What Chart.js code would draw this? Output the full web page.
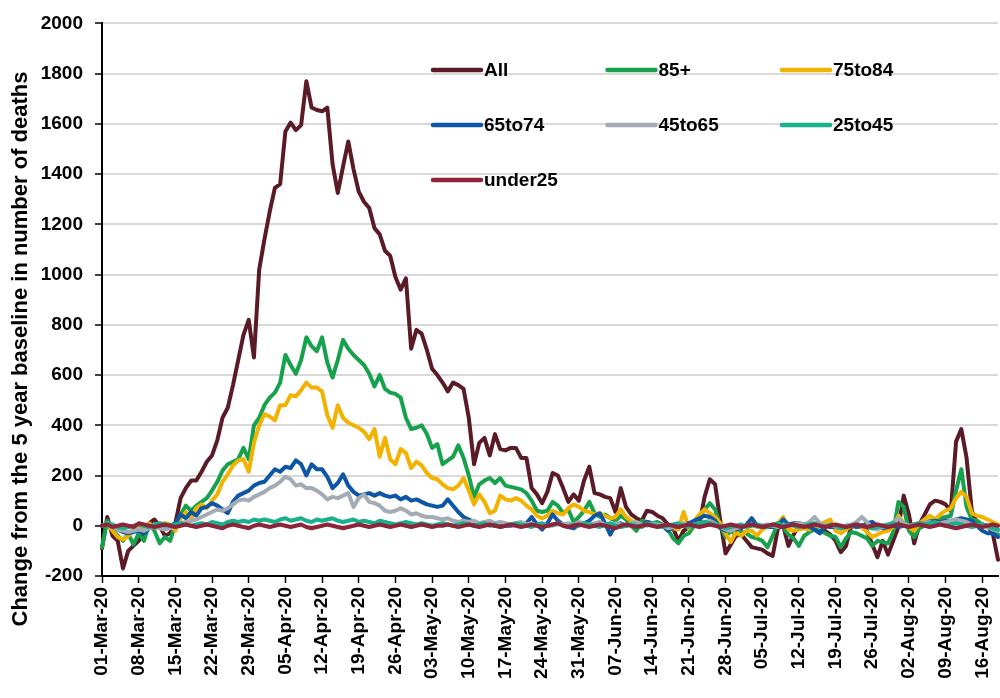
<!DOCTYPE html>
<html>
<head>
<meta charset="utf-8">
<title>Change from 5 year baseline in deaths</title>
<script src="https://cdn.jsdelivr.net/npm/chart.js@4.4.1/dist/chart.umd.min.js"></script>
<style>
  body { margin: 0; background: #fff; }
  canvas { display: block; }
</style>
</head>
<body>
<canvas id="myChart" width="1000" height="698"></canvas>
<script>
// daily series, starting 01-Mar-20
const firstDay = new Date(2020, 2, 1);
const monthNames = ['Jan','Feb','Mar','Apr','May','Jun','Jul','Aug','Sep','Oct','Nov','Dec'];

const allAges = [
  -90, 35, -40, -60, -170, -100, -80, -60, -30, 10,
  25, 0, -40, -30, 10, 110, 150, 180, 180, 215,
  255, 280, 340, 430, 470, 560, 660, 760, 820, 670,
  1020, 1140, 1250, 1345, 1360, 1570, 1605, 1575, 1595, 1770,
  1665, 1655, 1650, 1665, 1440, 1325, 1430, 1530, 1420, 1330,
  1290, 1265, 1185, 1160, 1095, 1075, 990, 940, 985, 705,
  780, 765, 700, 625, 600, 570, 535, 570, 560, 545,
  430, 245, 330, 350, 280, 365, 305, 300, 310, 310,
  270, 270, 150, 125, 90, 135, 210, 200, 150, 95,
  125, 100, 180, 235, 130, 125, 115, 110, 55, 150,
  75, 45, 30, 20, 60, 55, 40, 30, 5, -10,
  -60, -20, -5, 0, 5, 115, 185, 165, 20, -110,
  -75, -40, -35, -60, -85, -90, -95, -110, -120, -10,
  0, -80, -35, 0, 5, 0, 0, 5, -20, -35,
  -60, -105, -80, 0, 0, -5, -20, -75, -125, -60,
  -115, -60, -5, 120, 45, -70, 5, 45, 85, 100,
  95, 85, 60, 335, 385, 270, 60, 10, 5, 0,
  -30, -135
];

const age85plus = [
  -85, 20, -15, -40, -60, -30, -75, -30, -60, 5,
  -20, -70, -45, -60, 5, 45, 80, 60, 80, 95,
  110, 140, 175, 220, 245, 255, 265, 310, 265, 400,
  430, 480, 510, 530, 570, 680, 640, 605, 660, 750,
  715, 695, 750, 650, 590, 660, 740, 705, 680, 660,
  640, 605, 555, 600, 545, 530, 525, 510, 430, 385,
  390, 400, 365, 310, 325, 245, 260, 275, 320, 270,
  200, 115, 165, 180, 190, 170, 190, 160, 155, 150,
  145, 130, 100, 60, 55, 60, 95, 80, 50, 65,
  15, 35, 60, 95, 50, 35, 45, 30, 20, 40,
  25, 0, -20, 20, 15, 10, 15, 5, -15, -50,
  -70, -40, -30, 0, 35, 65, 90, 65, 0, -45,
  -20, -35, -25, -30, -45, -50, -60, -85, -40, 10,
  -5, -35, -50, -80, -40, -25, -15, -20, -30, -40,
  -45, -85, -50, -25, -30, -40, -50, -80, -60, -65,
  -70, -25, 95, 75, -20, -45, -10, 0, 20, 20,
  30, 35, 40, 140, 225, 75, 25, 20, 5, -5,
  -15, -35
];

const age75to84 = [
  0, 10, -20, -45, -55, -40, -20, 0, -10, 10,
  -5, 5, 10, 5, -20, 30, 55, 30, 70, 85,
  70, 100, 125, 175, 205, 240, 260, 265, 215, 330,
  400, 445, 435, 420, 480, 480, 520, 515, 540, 570,
  550, 550, 535, 440, 390, 480, 430, 410, 400, 390,
  375, 345, 385, 275, 350, 265, 245, 305, 290, 230,
  255, 240, 210, 190, 185, 165, 150, 145, 160, 190,
  140, 85, 125, 95, 50, 60, 120, 105, 100, 110,
  100, 80, 65, 40, 30, 40, 60, 50, 45, 70,
  85, 75, 60, 55, 45, 50, 40, 30, 35, 65,
  35, 20, 10, 5, 10, 0, 5, 0, -5, -10,
  -15, 55, -10, 20, 45, 65, 50, 35, 10, -30,
  -65, -25, -40, -20, -20, -40, -15, -5, 0, 10,
  35, -15, -20, -15, -10, -15, 0, 5, 15, 25,
  -20, -30, -15, 0, 5, -5, -25, -45, -35, -25,
  -20, -5, 40, 10, -5, -20, 10, 25, 40, 25,
  45, 60, 70, 110, 135, 115, 50, 40, 35, 25,
  15, 5
];

const age65to74 = [
  0, 5, -5, -15, -25, -30, -25, -20, -30, -10,
  0, -5, -10, 0, 10, 45, 30, 55, 40, 70,
  75, 90, 80, 65, 50, 95, 120, 130, 140, 160,
  170, 175, 200, 225, 215, 235, 230, 260, 245, 200,
  245, 225, 225, 195, 150, 170, 205, 160, 135, 120,
  125, 130, 120, 130, 120, 115, 120, 105, 115, 100,
  105, 95, 85, 80, 75, 80, 105, 80, 55, 35,
  25, 15, 10, 5, 5, 0, 5, 0, 0, 5,
  0, 10, 35, 5, -15, 10, 45, 20, 5, -5,
  -10, 5, 10, 20, 40, 50, 10, -35, 5, 10,
  0, 5, 0, 5, 15, 10, 5, 0, -20, -5,
  0, 5, 10, 20, 30, 40, 35, 20, -10, -20,
  -5, -15, -10, 5, 30, 0, -5, -5, -5, 0,
  25, 5, 10, 10, 5, -5, -15, -30, 0, -5,
  -5, -10, 0, 0, -5, 0, 10, 15, 0, -10,
  -5, 0, -5, 0, 0, 5, 10, 10, 15, 20,
  15, 20, 20, 25, 30, 25, 20, 0, -20, -30,
  -30, -45
];

const age45to65 = [
  0, 5, -5, -15, -20, -25, -20, -15, -20, -10,
  -5, -10, -15, -10, 0, 10, 15, 20, 25, 35,
  45, 55, 65, 60, 70, 85, 100, 105, 100, 115,
  125, 135, 150, 160, 175, 195, 185, 160, 165, 150,
  150, 140, 125, 105, 115, 110, 120, 130, 75, 110,
  125, 95, 90, 80, 60, 55, 60, 70, 60, 45,
  50, 40, 35, 35, 30, 25, 30, 20, 15, 20,
  15, 20, 10, 15, 20, 10, 15, 10, 5, 10,
  15, 5, 10, 0, 5, 0, 0, 10, 5, 10,
  5, 15, 10, 5, 10, 15, 5, 0, 10, 5,
  0, 10, 15, 5, 0, 10, 5, 0, -10, -5,
  5, 10, 0, 5, 10, 15, 20, 10, -5, -15,
  -20, -10, -5, 0, 5, -5, 0, 5, 0, -5,
  5, 0, 5, 10, 5, 15, 35, 10, 0, 5,
  -5, -10, 0, 5, 15, 35, 15, -10, -15, -5,
  0, 15, 30, 10, 0, 5, 10, 10, 15, 5,
  10, 15, 20, 25, 20, 15, 5, 0, 5, -5,
  -15, -20
];

const age25to45 = [
  0, 10, 5, -5, -10, -5, 0, 5, 0, -5,
  5, 10, 5, 0, 5, 10, 5, 0, 5, 10,
  5, 15, 10, 5, 15, 20, 15, 20, 15, 25,
  20, 25, 20, 15, 25, 30, 20, 25, 30, 20,
  15, 25, 20, 25, 30, 20, 15, 20, 25, 15,
  20, 15, 10, 20, 15, 10, 5, 10, 15, 10,
  5, 10, 5, 0, 5, 10, 5, 0, 5, 10,
  5, 0, 5, 10, 0, 5, -5, 0, 5, 10,
  5, 0, -5, 5, 10, 0, 5, 10, 0, -5,
  5, 0, 10, 5, 0, -5, 5, 10, 0, -5,
  0, 5, 0, -5, 10, 5, 0, -5, 0, 5,
  10, 0, -5, 5, 10, 15, 10, 5, 0, -10,
  -5, 0, 5, -5, 0, 5, 0, -5, 5, 10,
  0, 5, 0, -5, 0, 5, 10, 0, -5, 5,
  0, -10, -5, 0, 5, 0, -5, -10, -5, 0,
  5, 10, 5, 0, -5, 5, 10, 5, 10, 15,
  5, 0, 5, 10, 5, 0, -5, 0, 5, 0,
  -10, -15
];

const under25 = [
  0, 5, -5, 0, 5, 0, -5, 10, 5, 0,
  -5, 0, 5, 0, -5, 0, 5, 0, -5, 0,
  5, 0, -5, -10, 0, 5, 0, -5, -10, 0,
  5, 0, -5, 0, 5, 0, -5, 0, 5, -5,
  -10, -5, 0, 5, 0, -5, -10, -5, 0, 5,
  0, -5, 0, 5, 0, -5, 0, 5, 0, -5,
  0, 5, 0, -5, 0, 0, 5, 0, -5, 0,
  5, 0, -5, 0, 5, 0, -5, 0, 5, 0,
  -5, 0, 5, 0, -5, 0, 5, 10, 0, -5,
  0, 5, 0, -5, 0, 5, 0, -5, -10, 0,
  5, 0, -5, 0, 5, 0, -5, 0, 5, 0,
  -5, 0, 5, 0, -5, 0, 5, 0, -5, 0,
  5, 0, -5, 0, 5, 0, -5, 0, 5, 0,
  -5, 0, 5, 0, -5, 0, 5, 0, -5, 0,
  5, 0, -5, 0, 5, 0, -5, 0, 5, 0,
  -5, 0, 5, 0, -5, 0, 5, 0, -5, 0,
  5, 0, -5, -10, -5, 0, 5, 0, -5, 0,
  5, 0
];

const seriesNames = ['All', '85+', '75to84', '65to74', '45to65', '25to45', 'under25'];
const seriesValues = [allAges, age85plus, age75to84, age65to74, age45to65, age25to45, under25];
const seriesColors = ['#5a1b27', '#16a24c', '#f2b200', '#0d55a5', '#a3abb5', '#17b18d', '#8c2539'];

const yMin = -200, yMax = 2000, yStep = 200;
const yTitle = 'Change from the 5 year baseline in number of deaths';
const fontFamily = '"Liberation Sans", Arial, sans-serif';

const pad2 = n => (n < 10 ? '0' : '') + n;
const dayLabels = allAges.map((v, i) => {
  const d = new Date(firstDay.getFullYear(), firstDay.getMonth(), firstDay.getDate() + i);
  return pad2(d.getDate()) + '-' + monthNames[d.getMonth()] + '-' + String(d.getFullYear()).slice(2);
});

// legend sits inside the plot, three entries per row
const insideLegend = {
  id: 'insideLegend',
  afterDraw(chart) {
    const ctx = chart.ctx;
    ctx.save();
    ctx.font = 'bold 19px ' + fontFamily;
    ctx.textBaseline = 'middle';
    chart.data.datasets.forEach((ds, i) => {
      const x = 433 + (i % 3) * 174.5;
      const y = 70 + Math.floor(i / 3) * 55;
      ctx.strokeStyle = ds.borderColor;
      ctx.lineWidth = 4.5;
      ctx.lineCap = 'round';
      ctx.beginPath();
      ctx.moveTo(x, y);
      ctx.lineTo(x + 48, y);
      ctx.stroke();
      ctx.fillStyle = '#000';
      ctx.fillText(ds.label, x + 51, y + 1);
    });
    ctx.restore();
  }
};

// rotated y axis title
const sideTitle = {
  id: 'sideTitle',
  afterDraw(chart) {
    const ctx = chart.ctx;
    ctx.save();
    ctx.translate(21, 349);
    ctx.rotate(-Math.PI / 2);
    ctx.font = 'bold 22px ' + fontFamily;
    ctx.fillStyle = '#000';
    ctx.textAlign = 'center';
    ctx.textBaseline = 'middle';
    ctx.fillText(yTitle, 0, 0);
    ctx.restore();
  }
};

const ctx = document.getElementById('myChart');

new Chart(ctx, {
  type: 'line',
  data: {
    labels: dayLabels,
    datasets: seriesNames.map((name, i) => ({
      label: name,
      data: seriesValues[i],
      borderColor: seriesColors[i],
      backgroundColor: seriesColors[i],
      order: seriesNames.length - i
    }))
  },
  options: {
    responsive: false,
    animation: false,
    devicePixelRatio: 1,
    layout: { padding: { top: 18, right: 2, left: 0, bottom: 0 } },
    elements: {
      point: { radius: 0 },
      line: { borderWidth: 4, tension: 0, borderJoinStyle: 'round', borderCapStyle: 'round' }
    },
    plugins: {
      legend: { display: false },
      tooltip: { enabled: false }
    },
    scales: {
      x: {
        offset: false,
        grid: {
          drawOnChartArea: false,
          tickLength: 7,
          tickWidth: 1.5,
          tickColor: c => (c.index % 7 === 0 ? '#000' : 'rgba(0,0,0,0)')
        },
        border: { color: '#000', width: 2 },
        ticks: {
          autoSkip: false,
          minRotation: 90,
          maxRotation: 90,
          padding: 4,
          color: '#000',
          font: { family: fontFamily, size: 19, weight: 'bold' },
          callback: function (v, i) { return i % 7 === 0 ? this.getLabelForValue(v) : ''; }
        },
        afterFit: s => { s.height = 122; s.paddingLeft = 0; s.paddingRight = 0; }
      },
      y: {
        min: yMin,
        max: yMax,
        grid: { color: '#d9d9d9', lineWidth: 2, tickLength: 7, tickColor: '#000', tickWidth: 1.5 },
        border: { color: '#000', width: 2 },
        ticks: {
          stepSize: yStep,
          padding: 12,
          color: '#000',
          font: { family: fontFamily, size: 19, weight: 'bold' },
          callback: v => v
        },
        afterFit: s => { s.width = 102; }
      }
    }
  },
  plugins: [insideLegend, sideTitle]
});
</script>
</body>
</html>
